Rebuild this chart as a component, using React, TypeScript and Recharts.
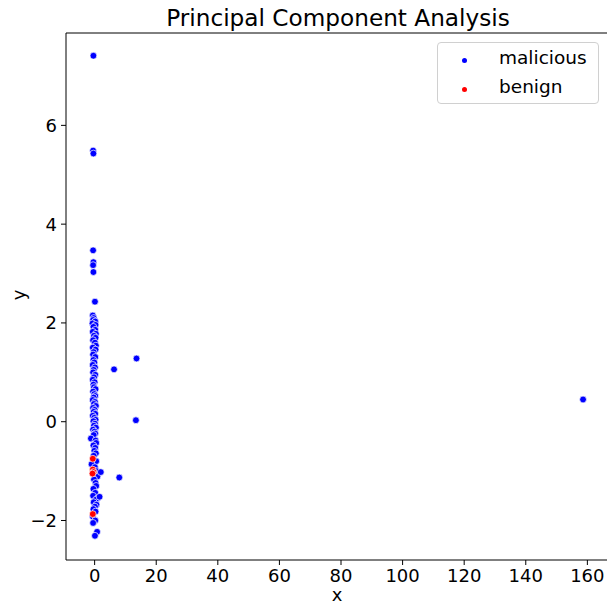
import { Legend, ReferenceLine, Scatter, ScatterChart, XAxis, YAxis } from "recharts";

const maliciousX = [
  158.6, 13.6, 6.3, 13.4, 8.0,
  -0.4, -0.5, -0.4, -0.5, -0.4, -0.5, -0.4, 0.1,
  -0.6, -0.3, -0.5, 0.2, -0.7, 0.3, -0.4, 0.2, -0.6, 0.4, -0.2, 0.3, -0.5, 0.1, 0.4, -0.6, 0.3, -0.3,
  -0.5, 0.2, -0.4, -0.1, -0.6, 0.1, -0.3, -0.5, 0.2, -0.2, -0.6, 0.0, -0.4, -0.2, 0.3, -0.5, -0.1, 0.2,
  -0.3, -0.6, 0.1, -0.2, 0.4, -0.5, 0.0, -0.3, 0.2, -0.6, -0.1, 0.3, -0.4, 0.1, -0.2, 0.4, -0.5, 0.0,
  0.2, -0.3, -1.2, 0.3, 0.5, -0.4, 0.2, -0.1, 0.4, -0.3, 0.5, -1.0, 0.1, 0.6, 0.9, -0.2, 0.3, 0.5,
  -0.4, 0.2, -0.5, 1.0, 0.4, -0.3, 0.6, 0.1, -0.4, 0.3, -0.6, 0.2, -0.5, 0.8, 0.1, 2.0, 1.6,
];
const maliciousY = [
  0.45, 1.28, 1.06, 0.03, -1.13,
  7.41, 5.49, 5.43, 3.47, 3.23, 3.17, 3.03, 2.43,
  2.15, 2.1, 2.06, 2.03, 1.99, 1.96, 1.92, 1.86, 1.82, 1.78, 1.74, 1.7, 1.65, 1.6, 1.54, 1.5, 1.46, 1.41,
  1.36, 1.31, 1.25, 1.2, 1.15, 1.1, 1.05, 1.0, 0.95, 0.9, 0.85, 0.8, 0.75, 0.7, 0.66, 0.61, 0.56, 0.52,
  0.49, 0.44, 0.4, 0.36, 0.32, 0.28, 0.24, 0.2, 0.16, 0.12, 0.08, 0.04, 0.01, -0.04, -0.08, -0.12, -0.16, -0.2,
  -0.24, -0.27, -0.34, -0.38, -0.43, -0.48, -0.53, -0.59, -0.64, -0.69, -0.8, -0.86, -0.92, -1.0, -1.11, -1.17, -1.24, -1.3,
  -1.36, -1.44, -1.5, -1.55, -1.58, -1.63, -1.68, -1.72, -1.77, -1.82, -1.92, -2.0, -2.05, -2.23, -2.31, -1.02, -1.52,
];
const benignX = [-0.6, -0.6, -0.4, -0.7, -0.6];
const benignY = [-0.75, -0.97, -1.02, -1.05, -1.87];

const xTicks = [0, 20, 40, 60, 80, 100, 120, 140, 160];
const yTicks = [-2, 0, 2, 4, 6];

const malicious = maliciousX.map((x, i) => ({ x, y: maliciousY[i] }));
const benign = benignX.map((x, i) => ({ x, y: benignY[i] }));

const FONT = "'DejaVu Sans', sans-serif";
const fmt = (v: number) => (v < 0 ? "\u2212" + Math.abs(v) : String(v));

const dot = (color: string) => (p: any) => (
  <circle cx={p.cx} cy={p.cy} r={3.4} fill={color} stroke="#ffffff" strokeWidth={0.7} />
);

function LegendBox() {
  const rows = [
    { name: "malicious", color: "#0000ff" },
    { name: "benign", color: "#ff0000" },
  ];
  return (
    <div
      style={{
        position: "relative",
        width: 162,
        height: 62,
        border: "1px solid #d0d0d0",
        borderRadius: 4,
        background: "rgba(255,255,255,0.8)",
        fontFamily: FONT,
        fontSize: 18.5,
        color: "#000",
        boxSizing: "border-box",
      }}
    >
      {rows.map((r, i) => (
        <div key={r.name} style={{ position: "absolute", left: 0, top: 3 + i * 29, height: 26 }}>
          <span style={{ position: "absolute", left: 24, top: 12, width: 5, height: 5, borderRadius: "50%", background: r.color }} />
          <span style={{ position: "absolute", left: 61, top: 0, whiteSpace: "nowrap", lineHeight: "24px" }}>{r.name}</span>
        </div>
      ))}
    </div>
  );
}

export default function App() {
  return (
    <div style={{ position: "absolute", left: 0, top: 0, width: 607, height: 606, overflow: "hidden", background: "#fff" }}>
      <div
        style={{
          position: "absolute",
          left: 338,
          top: 4,
          transform: "translateX(-50%)",
          fontFamily: FONT,
          fontSize: 23.2,
          whiteSpace: "nowrap",
          color: "#000",
        }}
      >
        Principal Component Analysis
      </div>
      <div style={{ position: "absolute", left: 337, top: 584, transform: "translateX(-50%)", fontFamily: FONT, fontSize: 18 }}>x</div>
      <div
        style={{
          position: "absolute",
          left: 18,
          top: 295,
          transform: "translate(-50%, -50%) rotate(-90deg)",
          fontFamily: FONT,
          fontSize: 18,
        }}
      >
        y
      </div>
      <ScatterChart width={640} height={606} margin={{ top: 33, left: 0, right: 32, bottom: 0 }}>
        <XAxis
          type="number"
          dataKey="x"
          domain={[-9.3, 166.7]}
          ticks={xTicks}
          allowDataOverflow
          height={46}
          tickSize={5}
          tickMargin={4}
          tickFormatter={fmt}
          tick={{ fill: "#000", fontSize: 18, fontFamily: FONT }}
          axisLine={{ stroke: "#000", strokeWidth: 1 }}
          tickLine={{ stroke: "#000" }}
        />
        <YAxis
          type="number"
          dataKey="y"
          domain={[-2.8, 7.87]}
          ticks={yTicks}
          allowDataOverflow
          width={66}
          tickSize={5}
          tickMargin={4}
          tickFormatter={fmt}
          tick={{ fill: "#000", fontSize: 18, fontFamily: FONT }}
          axisLine={{ stroke: "#000", strokeWidth: 1 }}
          tickLine={{ stroke: "#000" }}
        />
        <ReferenceLine y={7.87} stroke="#000" strokeWidth={1} />
        <Legend
          layout="vertical"
          align="center"
          verticalAlign="middle"
          wrapperStyle={{ left: 437, top: 42, width: 162 }}
          content={() => <LegendBox />}
        />
        <Scatter name="malicious" data={malicious} shape={dot("#0000ff")} isAnimationActive={false} />
        <Scatter name="benign" data={benign} shape={dot("#ff0000")} isAnimationActive={false} />
      </ScatterChart>
    </div>
  );
}
